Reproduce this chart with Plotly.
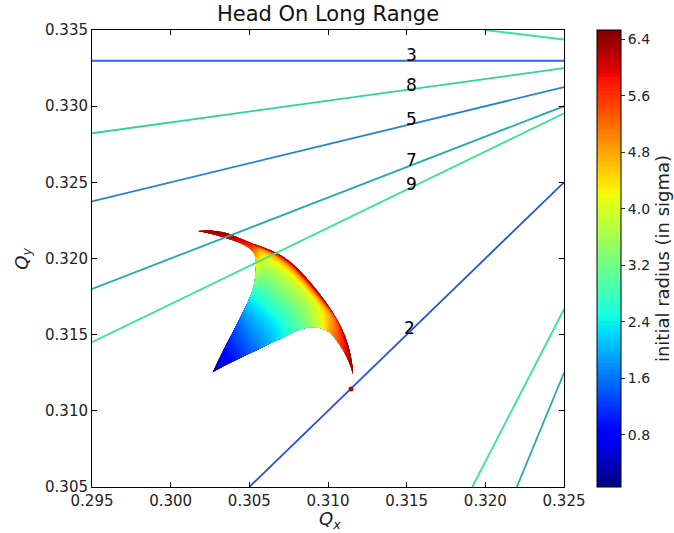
import plotly.graph_objects as go

# ---------------------------------------------------------------------------
# Tune footprint: tunes on a polar grid of initial amplitudes
# (rows = amplitude angle in degrees, columns = initial radius in sigma)
# ---------------------------------------------------------------------------
radius = [0.0, 0.8, 1.6, 2.4, 3.2, 4.0, 4.8, 5.6, 6.0, 6.4]
angle = [0.0, 22.5, 45.0, 67.5, 80.0, 85.0, 90.0]

qx_grid = [
    [0.30263, 0.30364, 0.30536, 0.30708, 0.30854, 0.30949, 0.31006, 0.31083, 0.31127, 0.31159],
    [0.30263, 0.30364, 0.30536, 0.30701, 0.30835, 0.30936, 0.31013, 0.31064, 0.31083, 0.31108],
    [0.30263, 0.30367, 0.30523, 0.30690, 0.30809, 0.30911, 0.30940, 0.30954, 0.30958, 0.30962],
    [0.30263, 0.30331, 0.30460, 0.30546, 0.30622, 0.30689, 0.30714, 0.30723, 0.30725, 0.30727],
    [0.30263, 0.30333, 0.30447, 0.30523, 0.30580, 0.30587, 0.30561, 0.30536, 0.30523, 0.30504],
    [0.30263, 0.30339, 0.30441, 0.30511, 0.30549, 0.30568, 0.30549, 0.30504, 0.30441, 0.30326],
    [0.30263, 0.30345, 0.30441, 0.30504, 0.30530, 0.30542, 0.30536, 0.30498, 0.30390, 0.30174],
]
qy_grid = [
    [0.31248, 0.31307, 0.31393, 0.31478, 0.31544, 0.31544, 0.31517, 0.31419, 0.31334, 0.31242],
    [0.31248, 0.31314, 0.31412, 0.31511, 0.31590, 0.31629, 0.31616, 0.31577, 0.31544, 0.31491],
    [0.31248, 0.31323, 0.31432, 0.31554, 0.31642, 0.31711, 0.31731, 0.31741, 0.31744, 0.31747],
    [0.31248, 0.31359, 0.31550, 0.31708, 0.31833, 0.31938, 0.31977, 0.31993, 0.31999, 0.32003],
    [0.31248, 0.31386, 0.31590, 0.31728, 0.31859, 0.31990, 0.32056, 0.32082, 0.32095, 0.32105],
    [0.31248, 0.31399, 0.31596, 0.31734, 0.31839, 0.31964, 0.32030, 0.32075, 0.32121, 0.32174],
    [0.31248, 0.31419, 0.31609, 0.31747, 0.31833, 0.31944, 0.32016, 0.32069, 0.32121, 0.32181],
]

# A lone large-amplitude particle that landed on the coupling line
stray_qx = [0.31146]
stray_qy = [0.31143]
stray_r = [6.1]

# ---------------------------------------------------------------------------
# Resonance lines (segment end points in the tune diagram) and their orders
# ---------------------------------------------------------------------------
res_order = [3, 8, 5, 7, 9, 2, 9, 9, 7]
res_qx0 = [0.295, 0.295, 0.295, 0.295, 0.295, 0.305, 0.320, 0.31917, 0.322]
res_qy0 = [0.33298, 0.32822, 0.32375, 0.31800, 0.31450, 0.305, 0.335, 0.305, 0.305]
res_qx1 = [0.325, 0.325, 0.325, 0.325, 0.325, 0.325, 0.325, 0.325, 0.325]
res_qy1 = [0.33298, 0.33250, 0.33125, 0.33000, 0.32953, 0.325, 0.334375, 0.31667, 0.3125]

order_colors = {
    2: "#2553dd",
    3: "#2f68dc",
    5: "#2584cf",
    7: "#22a9ad",
    8: "#2cd39c",
    9: "#33e690",
}

# Order labels written next to the lines
label_text = ["3", "8", "5", "7", "9", "2"]
label_qx = [0.31528, 0.31528, 0.31528, 0.31528, 0.31528, 0.31521]
label_qy = [0.33336, 0.33139, 0.32916, 0.32647, 0.32489, 0.31544]

# Axis ticks
x_ticks = [0.295, 0.300, 0.305, 0.310, 0.315, 0.320, 0.325]
y_ticks = [0.305, 0.310, 0.315, 0.320, 0.325, 0.330, 0.335]
cbar_ticks = [0.8, 1.6, 2.4, 3.2, 4.0, 4.8, 5.6, 6.4]
r_min, r_max = 0.06, 6.53

# matplotlib-style "jet" colour map
jet = [
    [0.0, "rgb(0,0,127)"],
    [0.11, "rgb(0,0,255)"],
    [0.125, "rgb(0,0,255)"],
    [0.34, "rgb(0,219,255)"],
    [0.35, "rgb(0,230,247)"],
    [0.375, "rgb(20,255,226)"],
    [0.64, "rgb(239,255,8)"],
    [0.65, "rgb(247,245,0)"],
    [0.66, "rgb(255,236,0)"],
    [0.89, "rgb(255,19,0)"],
    [0.91, "rgb(232,0,0)"],
    [1.0, "rgb(127,0,0)"],
]

FONT = "DejaVu Sans"
fig = go.Figure()

hidden_axis = dict(
    showgrid=False, showline=False, showticklabels="none",
    startline=False, endline=False, minorgridcount=0,
    gridcolor="rgba(0,0,0,0)", linecolor="rgba(0,0,0,0)",
)
fig.add_trace(go.Carpet(
    carpet="footprint", a=radius, b=angle, x=qx_grid, y=qy_grid,
    aaxis=hidden_axis, baxis=hidden_axis,
))

radius_z = [list(radius) for _ in angle]
fig.add_trace(go.Contourcarpet(
    carpet="footprint", a=radius, b=angle, z=radius_z,
    colorscale=jet, zmin=r_min, zmax=r_max,
    autocontour=False,
    contours=dict(start=r_min, end=r_max, size=0.05, coloring="fill", showlines=False),
    line=dict(width=0),
    colorbar=dict(
        x=1.07, xanchor="left", xpad=0, y=0.5, yanchor="middle", ypad=0,
        len=1.0, lenmode="fraction",
        thickness=24, outlinecolor="black", outlinewidth=1,
        tickvals=cbar_ticks, ticktext=[f"{v:.1f}" for v in cbar_ticks],
        ticks="outside", ticklen=4, tickcolor="#333",
        tickfont=dict(family=FONT, size=14, color="#222"),
        title=dict(text="initial radius (in sigma)", side="right",
                   font=dict(family=FONT, size=18, color="#222")),
    ),
))

for order, x0, y0, x1, y1 in zip(res_order, res_qx0, res_qy0, res_qx1, res_qy1):
    fig.add_trace(go.Scatter(
        x=[x0, x1], y=[y0, y1], mode="lines",
        line=dict(color=order_colors[order], width=1.8),
        showlegend=False, hoverinfo="skip",
    ))

fig.add_trace(go.Scatter(
    x=stray_qx, y=stray_qy, mode="markers",
    marker=dict(size=5, color=stray_r, colorscale=jet, cmin=r_min, cmax=r_max),
    showlegend=False,
))

for txt, lx, ly in zip(label_text, label_qx, label_qy):
    fig.add_annotation(
        x=lx, y=ly, text=txt, showarrow=False,
        xanchor="center", yanchor="middle",
        font=dict(family=FONT, size=17, color="black"),
    )

axis_style = dict(
    showgrid=False, zeroline=False, showline=True, linecolor="black", linewidth=1,
    mirror="ticks", ticks="inside", ticklen=5, tickcolor="black",
    tickfont=dict(family=FONT, size=15, color="#222"),
)
fig.update_xaxes(range=[0.295, 0.325], tickvals=x_ticks,
                 ticktext=[f"{v:.3f}" for v in x_ticks], **axis_style)
fig.update_yaxes(range=[0.305, 0.335], tickvals=y_ticks,
                 ticktext=[f"{v:.3f}" for v in y_ticks], **axis_style)

fig.add_annotation(xref="paper", yref="paper", x=0.505, y=-0.073, text="<i>Q<sub>x</sub></i>",
                   showarrow=False, xanchor="center", yanchor="middle",
                   font=dict(family=FONT, size=18, color="#222"))
fig.add_annotation(xref="paper", yref="paper", x=-0.148, y=0.5, text="<i>Q<sub>y</sub></i>",
                   showarrow=False, xanchor="center", yanchor="middle", textangle=-90,
                   font=dict(family=FONT, size=18, color="#222"))

fig.update_layout(
    width=674, height=533,
    margin=dict(l=92, r=110, t=30, b=46, autoexpand=False),
    paper_bgcolor="white", plot_bgcolor="white",
    showlegend=False,
    title=dict(text="Head On Long Range", x=0.5, xref="paper", xanchor="center",
               y=1 - 14 / 533, yref="container", yanchor="middle",
               font=dict(family=FONT, size=21, color="#111")),
)

fig.write_html("out.html")
